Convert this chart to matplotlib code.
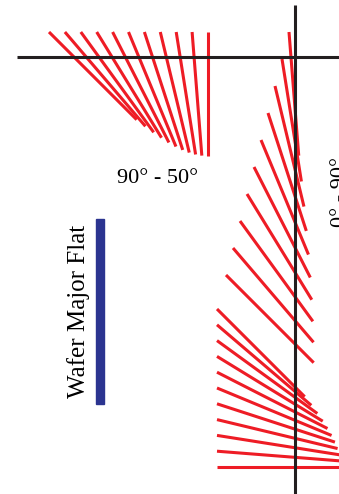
import numpy as np
import matplotlib
matplotlib.use("Agg")
import matplotlib.pyplot as plt

# ---- data: line tilt angles (degrees from vertical) ----
left_angles = [45, 40.5, 36, 31.5, 27, 22.5, 18, 13.5, 9, 4.5, 0]
right_upper_angles = [4.5, 9, 13.5, 18, 22.5, 27, 31.5, 36, 40.5, 45]
right_lower_angles = [45, 49.5, 54, 58.5, 63, 67.5, 72, 76.5, 81, 85.5, 90]
label_left = "90° - 50°"
label_right = "0° - 90°"
label_flat = "Wafer Major Flat"

# ---- layout (pixel units) ----
W, H = 339, 494
L = 124
RED = "#EE1C25"
BLACK = "#231F20"
BLUE = "#2B3490"
LW = 2.2

fig = plt.figure(figsize=(W / 100, H / 100), dpi=100)
ax = fig.add_axes([0, 0, 1, 1])
ax.set_xlim(0, W)
ax.set_ylim(H, 0)
ax.axis("off")


def draw_group(angles, x0, y0, dx, dy):
    for i, a in enumerate(angles):
        t = np.deg2rad(a)
        xs = x0 + dx * i
        ys = y0 + dy * i
        ax.plot([xs, xs + L * np.sin(t)], [ys, ys + L * np.cos(t)],
                color=RED, lw=LW, solid_capstyle="butt", zorder=2)


draw_group(left_angles, 49, 32, 15.9, 0)
draw_group(right_upper_angles, 289, 32, -7.0, 27.0)
draw_group(right_lower_angles, 217, 309, 0, 15.8)

# black cross
ax.plot([17, W], [57, 57], color=BLACK, lw=2.2, solid_capstyle="butt", zorder=3)
ax.plot([295, 295], [5, H], color=BLACK, lw=2.2, solid_capstyle="butt", zorder=3)

# blue wafer flat bar
ax.add_patch(plt.Rectangle((96, 219), 8, 185, color=BLUE, zorder=2))

font = ["Liberation Serif", "DejaVu Serif"]
ax.text(158, 178, label_left, family=font, fontsize=16, ha="center", va="center")
ax.text(345, 192, label_right, family=font, fontsize=16, rotation=90,
        ha="center", va="baseline", rotation_mode="anchor")
ax.text(85, 311, label_flat, family=font, fontsize=18, rotation=90,
        ha="center", va="baseline", rotation_mode="anchor")

fig.savefig("out.png", dpi=100)
